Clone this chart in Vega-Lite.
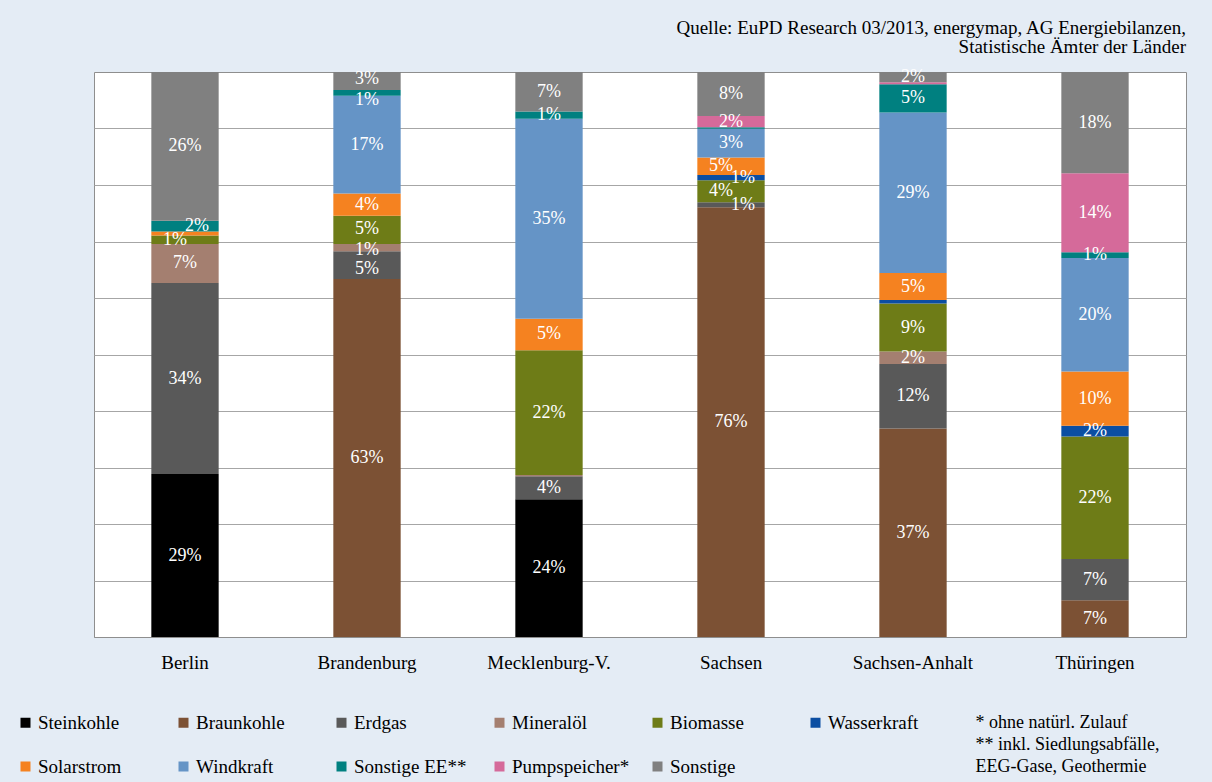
{
  "$schema": "https://vega.github.io/schema/vega-lite/v6.json",
  "width": 1092,
  "height": 565,
  "autosize": {"type": "none"},
  "padding": {"left": 94, "top": 72, "right": 26, "bottom": 145},
  "background": "#e4ecf5",
  "title": {
    "text": ["Quelle: EuPD Research 03/2013, energymap, AG Energiebilanzen,", "Statistische Ämter der Länder"],
    "anchor": "end",
    "font": "Liberation Serif",
    "fontSize": 19,
    "fontWeight": "normal",
    "color": "#000000",
    "lineHeight": 19,
    "offset": 11
  },
  "config": {
    "view": {"fill": "#ffffff", "stroke": "#8e8e8e", "strokeWidth": 1},
    "font": "Liberation Serif",
    "axis": {"labelFont": "Liberation Serif", "titleFont": "Liberation Serif"},
    "legend": {"labelFont": "Liberation Serif"},
    "text": {"font": "Liberation Serif"}
  },
  "data": {
    "values": [
      {"land": "Berlin", "src": "Steinkohle", "value": 28.8, "label": "29%"},
      {"land": "Berlin", "src": "Erdgas", "value": 33.8, "label": "34%"},
      {"land": "Berlin", "src": "Mineralöl", "value": 6.9, "label": "7%"},
      {"land": "Berlin", "src": "Biomasse", "value": 1.5, "label": "1%"},
      {"land": "Berlin", "src": "Solarstrom", "value": 0.7, "label": ""},
      {"land": "Berlin", "src": "Sonstige EE**", "value": 1.9, "label": "2%"},
      {"land": "Berlin", "src": "Sonstige", "value": 26.3, "label": "26%"},
      {"land": "Brandenburg", "src": "Braunkohle", "value": 63.3, "label": "63%"},
      {"land": "Brandenburg", "src": "Erdgas", "value": 4.9, "label": "5%"},
      {"land": "Brandenburg", "src": "Mineralöl", "value": 1.3, "label": "1%"},
      {"land": "Brandenburg", "src": "Biomasse", "value": 5.0, "label": "5%"},
      {"land": "Brandenburg", "src": "Solarstrom", "value": 3.9, "label": "4%"},
      {"land": "Brandenburg", "src": "Windkraft", "value": 17.3, "label": "17%"},
      {"land": "Brandenburg", "src": "Sonstige EE**", "value": 1.0, "label": "1%"},
      {"land": "Brandenburg", "src": "Sonstige", "value": 3.2, "label": "3%"},
      {"land": "Mecklenburg-V.", "src": "Steinkohle", "value": 24.4, "label": "24%"},
      {"land": "Mecklenburg-V.", "src": "Erdgas", "value": 4.1, "label": "4%"},
      {"land": "Mecklenburg-V.", "src": "Mineralöl", "value": 0.2, "label": ""},
      {"land": "Mecklenburg-V.", "src": "Biomasse", "value": 22.1, "label": "22%"},
      {"land": "Mecklenburg-V.", "src": "Solarstrom", "value": 5.6, "label": "5%"},
      {"land": "Mecklenburg-V.", "src": "Windkraft", "value": 35.4, "label": "35%"},
      {"land": "Mecklenburg-V.", "src": "Sonstige EE**", "value": 1.3, "label": "1%"},
      {"land": "Mecklenburg-V.", "src": "Sonstige", "value": 7.0, "label": "7%"},
      {"land": "Sachsen", "src": "Braunkohle", "value": 76.1, "label": "76%"},
      {"land": "Sachsen", "src": "Erdgas", "value": 0.9, "label": "1%"},
      {"land": "Sachsen", "src": "Biomasse", "value": 3.9, "label": "4%"},
      {"land": "Sachsen", "src": "Wasserkraft", "value": 0.9, "label": "1%"},
      {"land": "Sachsen", "src": "Solarstrom", "value": 3.1, "label": "5%"},
      {"land": "Sachsen", "src": "Windkraft", "value": 5.1, "label": "3%"},
      {"land": "Sachsen", "src": "Sonstige EE**", "value": 0.25, "label": ""},
      {"land": "Sachsen", "src": "Pumpspeicher*", "value": 2.0, "label": "2%"},
      {"land": "Sachsen", "src": "Sonstige", "value": 7.8, "label": "8%"},
      {"land": "Sachsen-Anhalt", "src": "Braunkohle", "value": 36.9, "label": "37%"},
      {"land": "Sachsen-Anhalt", "src": "Erdgas", "value": 11.4, "label": "12%"},
      {"land": "Sachsen-Anhalt", "src": "Mineralöl", "value": 2.2, "label": "2%"},
      {"land": "Sachsen-Anhalt", "src": "Biomasse", "value": 8.5, "label": "9%"},
      {"land": "Sachsen-Anhalt", "src": "Wasserkraft", "value": 0.6, "label": ""},
      {"land": "Sachsen-Anhalt", "src": "Solarstrom", "value": 4.8, "label": "5%"},
      {"land": "Sachsen-Anhalt", "src": "Windkraft", "value": 28.4, "label": "29%"},
      {"land": "Sachsen-Anhalt", "src": "Sonstige EE**", "value": 5.0, "label": "5%"},
      {"land": "Sachsen-Anhalt", "src": "Pumpspeicher*", "value": 0.35, "label": ""},
      {"land": "Sachsen-Anhalt", "src": "Sonstige", "value": 1.8, "label": "2%"},
      {"land": "Thüringen", "src": "Braunkohle", "value": 6.5, "label": "7%"},
      {"land": "Thüringen", "src": "Erdgas", "value": 7.3, "label": "7%"},
      {"land": "Thüringen", "src": "Biomasse", "value": 21.7, "label": "22%"},
      {"land": "Thüringen", "src": "Wasserkraft", "value": 1.9, "label": "2%"},
      {"land": "Thüringen", "src": "Solarstrom", "value": 9.6, "label": "10%"},
      {"land": "Thüringen", "src": "Windkraft", "value": 20.1, "label": "20%"},
      {"land": "Thüringen", "src": "Sonstige EE**", "value": 1.0, "label": "1%"},
      {"land": "Thüringen", "src": "Pumpspeicher*", "value": 14.0, "label": "14%"},
      {"land": "Thüringen", "src": "Sonstige", "value": 17.9, "label": "18%"}
    ]
  },
  "transform": [
    {"stack": "value", "groupby": ["land"], "offset": "normalize", "as": ["y0", "y1"]}
  ],
  "encoding": {
    "x": {
      "field": "land",
      "type": "nominal",
      "sort": null,
      "scale": {"paddingInner": 0.63, "paddingOuter": 0.315},
      "axis": {
        "title": ["* ohne natürl. Zulauf", "** inkl. Siedlungsabfälle,", "EEG-Gase, Geothermie"],
        "titleX": 881,
        "titleY": 76,
        "titleAlign": "left",
        "titleBaseline": "top",
        "titleAngle": 0,
        "titleFont": "Liberation Serif",
        "titleFontSize": 18,
        "titleFontWeight": "normal",
        "titleColor": "#000000",
        "titleLineHeight": 22,
        "labelAngle": 0,
        "labelFont": "Liberation Serif",
        "labelFontSize": 19,
        "labelColor": "#000000",
        "labelPadding": 16,
        "ticks": false,
        "domain": true,
        "domainColor": "#8e8e8e",
        "grid": false
      }
    }
  },
  "layer": [
    {
      "mark": {"type": "bar"},
      "encoding": {
        "y": {
          "field": "y0",
          "type": "quantitative",
          "scale": {"domain": [0, 1], "nice": false},
          "axis": {
            "title": null,
            "labels": false,
            "ticks": false,
            "domain": false,
            "grid": true,
            "gridColor": "#a6a6a6",
            "gridWidth": 1,
            "values": [0.1, 0.2, 0.3, 0.4, 0.5, 0.6, 0.7, 0.8, 0.9]
          }
        },
        "y2": {"field": "y1"},
        "color": {
          "field": "src",
          "type": "nominal",
          "scale": {
            "domain": ["Steinkohle", "Braunkohle", "Erdgas", "Mineralöl", "Biomasse", "Wasserkraft", "Solarstrom", "Windkraft", "Sonstige EE**", "Pumpspeicher*", "Sonstige"],
            "range": ["#000000", "#7c5134", "#595959", "#a47f70", "#6e7c17", "#0b4ea2", "#f58220", "#6594c6", "#008080", "#d56a9a", "#808080"]
          },
          "legend": {
            "title": null,
            "orient": "none",
            "direction": "horizontal",
            "legendX": -78,
            "legendY": 641,
            "columns": 6,
            "gridAlign": "all",
            "columnPadding": 18,
            "rowPadding": 24,
            "symbolType": "square",
            "symbolSize": 100,
            "symbolStrokeWidth": 0,
            "labelOffset": 3,
            "labelFont": "Liberation Serif",
            "labelFontSize": 19,
            "labelColor": "#000000",
            "labelLimit": 200
          }
        }
      }
    },
    {
      "transform": [
        {"filter": "!((datum.land == 'Berlin' && (datum.src == 'Biomasse' || datum.src == 'Sonstige EE**')) || (datum.land == 'Sachsen' && (datum.src == 'Solarstrom' || datum.src == 'Biomasse' || datum.src == 'Wasserkraft' || datum.src == 'Erdgas')) || (datum.land == 'Brandenburg' && (datum.src == 'Sonstige EE**' || datum.src == 'Sonstige' || datum.src == 'Mineralöl' || datum.src == 'Erdgas' || datum.src == 'Biomasse')))"},
        {"fold": ["y0", "y1"], "as": ["k", "yy"]}
      ],
      "mark": {"type": "text", "color": "#ffffff", "font": "Liberation Serif", "fontSize": 18, "baseline": "middle"},
      "encoding": {
        "y": {"field": "yy", "type": "quantitative", "aggregate": "mean"},
        "detail": {"field": "src"},
        "text": {"field": "label"}
      }
    },
    {
      "transform": [
        {"filter": "(datum.land == 'Berlin' && datum.src == 'Biomasse') || (datum.land == 'Sachsen' && (datum.src == 'Solarstrom' || datum.src == 'Biomasse'))"},
        {"fold": ["y0", "y1"], "as": ["k", "yy"]}
      ],
      "mark": {"type": "text", "color": "#ffffff", "font": "Liberation Serif", "fontSize": 18, "baseline": "middle", "dx": -10},
      "encoding": {
        "y": {"field": "yy", "type": "quantitative", "aggregate": "mean"},
        "detail": {"field": "src"},
        "text": {"field": "label"}
      }
    },
    {
      "transform": [
        {"filter": "(datum.land == 'Berlin' && datum.src == 'Sonstige EE**') || (datum.land == 'Sachsen' && (datum.src == 'Wasserkraft' || datum.src == 'Erdgas'))"},
        {"fold": ["y0", "y1"], "as": ["k", "yy"]}
      ],
      "mark": {"type": "text", "color": "#ffffff", "font": "Liberation Serif", "fontSize": 18, "baseline": "middle", "dx": 12},
      "encoding": {
        "y": {"field": "yy", "type": "quantitative", "aggregate": "mean"},
        "detail": {"field": "src"},
        "text": {"field": "label"}
      }
    },
    {
      "transform": [
        {"filter": "datum.land == 'Brandenburg' && datum.src == 'Sonstige EE**'"},
        {"fold": ["y0", "y1"], "as": ["k", "yy"]}
      ],
      "mark": {"type": "text", "color": "#ffffff", "font": "Liberation Serif", "fontSize": 18, "baseline": "middle", "dy": 7},
      "encoding": {
        "y": {"field": "yy", "type": "quantitative", "aggregate": "mean"},
        "detail": {"field": "src"},
        "text": {"field": "label"}
      }
    },
    {
      "transform": [
        {"filter": "datum.land == 'Brandenburg' && datum.src == 'Sonstige'"},
        {"fold": ["y0", "y1"], "as": ["k", "yy"]}
      ],
      "mark": {"type": "text", "color": "#ffffff", "font": "Liberation Serif", "fontSize": 18, "baseline": "middle", "dy": -2},
      "encoding": {
        "y": {"field": "yy", "type": "quantitative", "aggregate": "mean"},
        "detail": {"field": "src"},
        "text": {"field": "label"}
      }
    },
    {
      "transform": [
        {"filter": "datum.land == 'Brandenburg' && datum.src == 'Biomasse'"},
        {"fold": ["y0", "y1"], "as": ["k", "yy"]}
      ],
      "mark": {"type": "text", "color": "#ffffff", "font": "Liberation Serif", "fontSize": 18, "baseline": "middle", "dy": -1},
      "encoding": {
        "y": {"field": "yy", "type": "quantitative", "aggregate": "mean"},
        "detail": {"field": "src"},
        "text": {"field": "label"}
      }
    },
    {
      "transform": [
        {"filter": "datum.land == 'Brandenburg' && datum.src == 'Mineralöl'"},
        {"fold": ["y0", "y1"], "as": ["k", "yy"]}
      ],
      "mark": {"type": "text", "color": "#ffffff", "font": "Liberation Serif", "fontSize": 18, "baseline": "middle", "dy": 2},
      "encoding": {
        "y": {"field": "yy", "type": "quantitative", "aggregate": "mean"},
        "detail": {"field": "src"},
        "text": {"field": "label"}
      }
    },
    {
      "transform": [
        {"filter": "datum.land == 'Brandenburg' && datum.src == 'Erdgas'"},
        {"fold": ["y0", "y1"], "as": ["k", "yy"]}
      ],
      "mark": {"type": "text", "color": "#ffffff", "font": "Liberation Serif", "fontSize": 18, "baseline": "middle", "dy": 4},
      "encoding": {
        "y": {"field": "yy", "type": "quantitative", "aggregate": "mean"},
        "detail": {"field": "src"},
        "text": {"field": "label"}
      }
    }
  ]
}
